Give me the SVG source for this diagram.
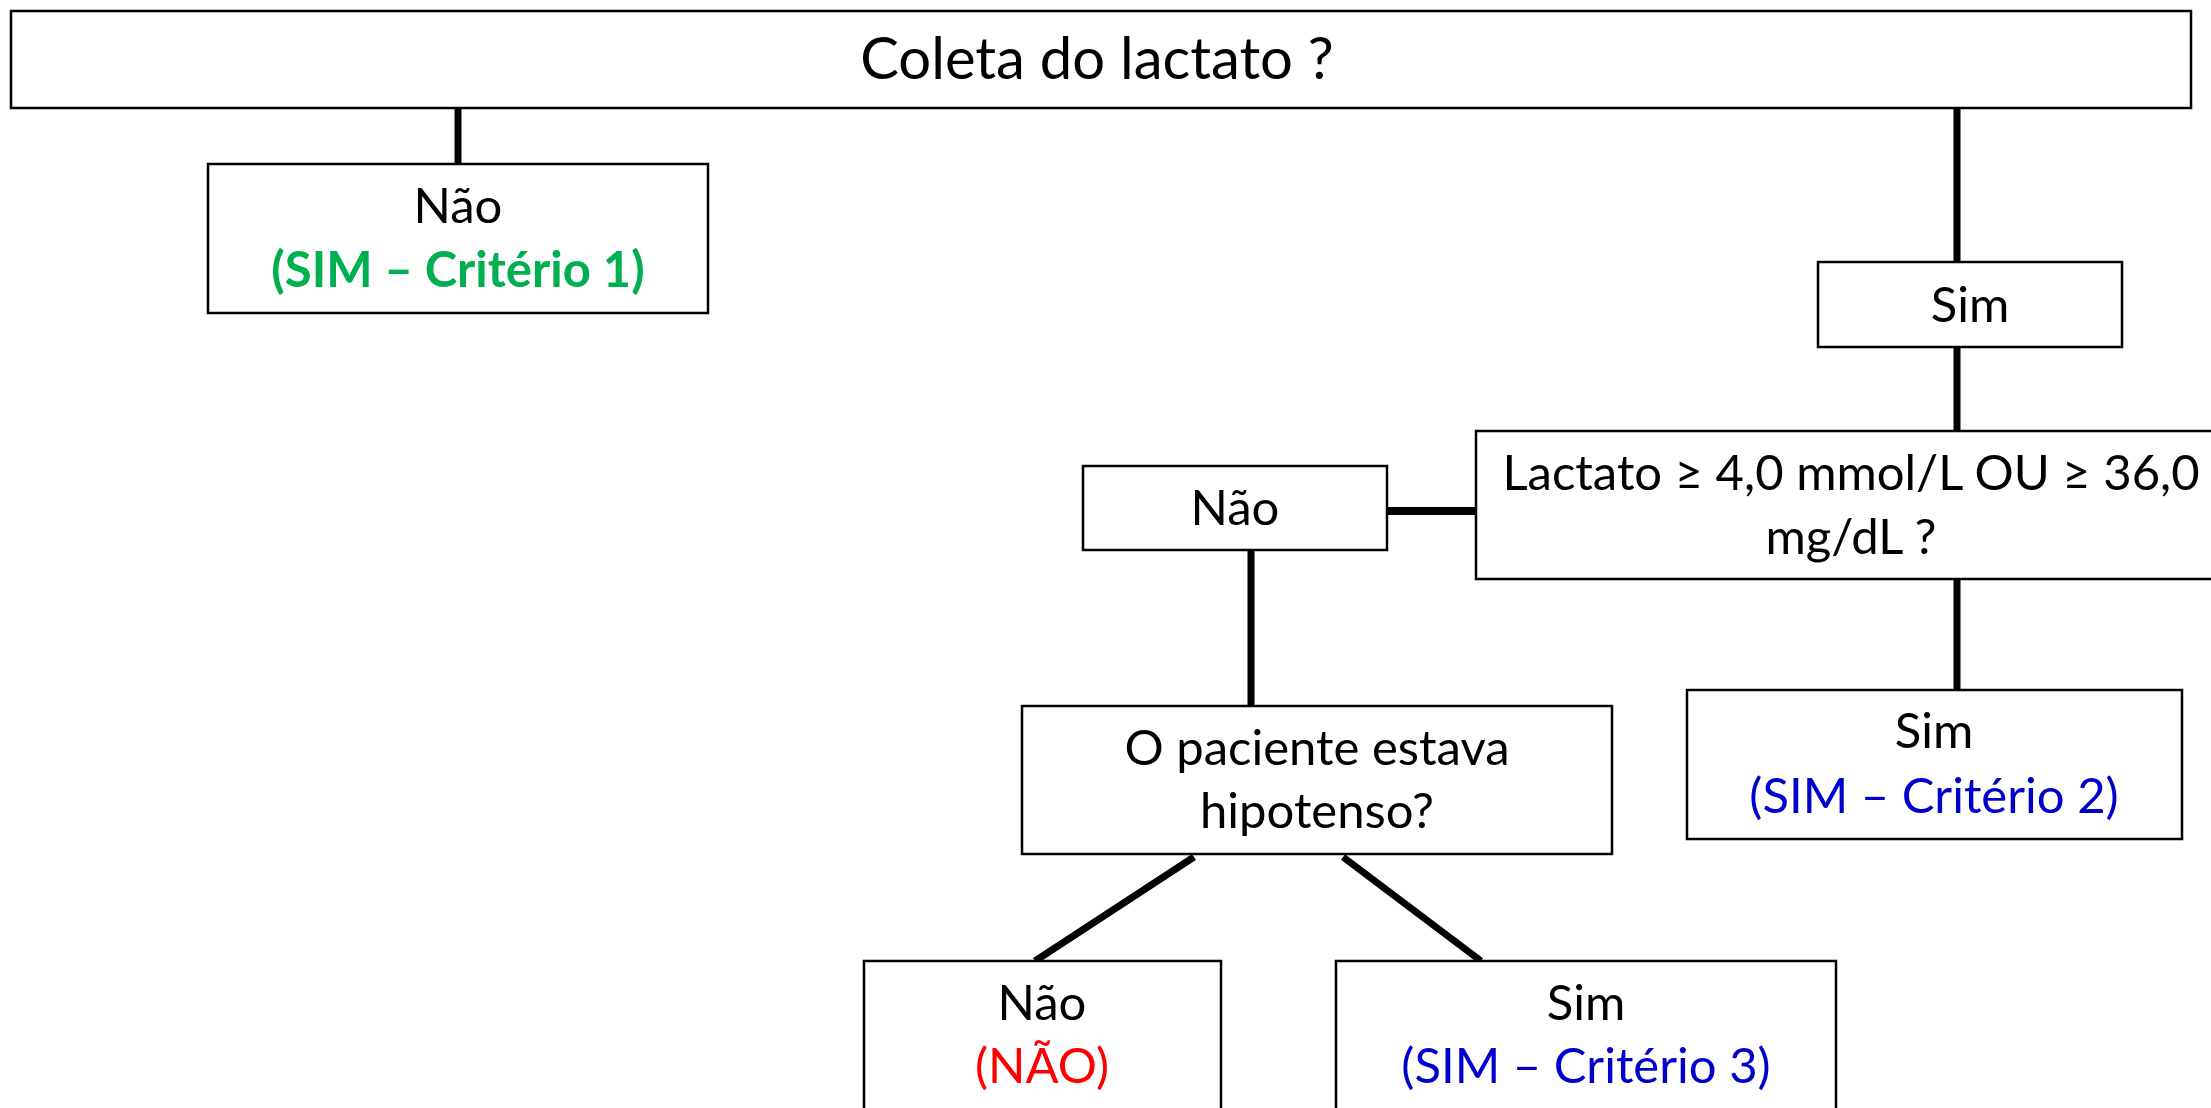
<svg xmlns="http://www.w3.org/2000/svg" width="2211" height="1108" viewBox="0 0 2211 1108">
<style>
.box{fill:#fff;stroke:#000;stroke-width:2.5}
.t{font-family:Lato,"Liberation Sans",sans-serif;font-size:49px;text-anchor:middle;fill:#000}
.title{font-size:58px}
.g{fill:#00B050;font-weight:bold}
.b{fill:#0000CC}
.r{fill:#FF0000}
.c{stroke:#000;stroke-width:7;fill:none}
</style>
<rect width="2211" height="1108" fill="#fff"/>
<g id="connectors">
<path class="c" d="M458 108V164"/>
<path class="c" d="M1957 108V262"/>
<path class="c" d="M1957 347V431"/>
<path class="c" d="M1957 579V690"/>
<path class="c" d="M1387 511H1476" style="stroke-width:8"/>
<path class="c" d="M1251 550V706"/>
<path class="c" d="M1194 857L1035 961"/>
<path class="c" d="M1343 857L1481 961"/>
</g>
<g id="n-coleta"><rect class="box" x="11" y="11" width="2180" height="97"/><text class="t title" x="1097" y="79">Coleta do lactato ?</text></g>
<g id="n-nao1"><rect class="box" x="208" y="164" width="500" height="149"/><text class="t" x="458" y="223">Não</text><text class="t g" x="458" y="287">(SIM – Critério 1)</text></g>
<g id="n-sim1"><rect class="box" x="1818" y="262" width="304" height="85"/><text class="t" x="1970" y="322">Sim</text></g>
<g id="n-lactato"><rect class="box" x="1476" y="431" width="760" height="148"/><text class="t" x="1851" y="490">Lactato ≥ 4,0 mmol/L OU ≥ 36,0</text><text class="t" x="1851" y="554">mg/dL ?</text></g>
<g id="n-nao2"><rect class="box" x="1083" y="466" width="304" height="84"/><text class="t" x="1235" y="525">Não</text></g>
<g id="n-sim2"><rect class="box" x="1687" y="690" width="495" height="149"/><text class="t" x="1934" y="748">Sim</text><text class="t b" x="1934" y="813">(SIM – Critério 2)</text></g>
<g id="n-hipo"><rect class="box" x="1022" y="706" width="590" height="148"/><text class="t" x="1317" y="765">O paciente estava</text><text class="t" x="1317" y="828">hipotenso?</text></g>
<g id="n-nao3"><rect class="box" x="864" y="961" width="357" height="200"/><text class="t" x="1042" y="1020">Não</text><text class="t r" x="1042" y="1083">(NÃO)</text></g>
<g id="n-sim3"><rect class="box" x="1336" y="961" width="500" height="200"/><text class="t" x="1586" y="1020">Sim</text><text class="t b" x="1586" y="1083">(SIM – Critério 3)</text></g>
</svg>
